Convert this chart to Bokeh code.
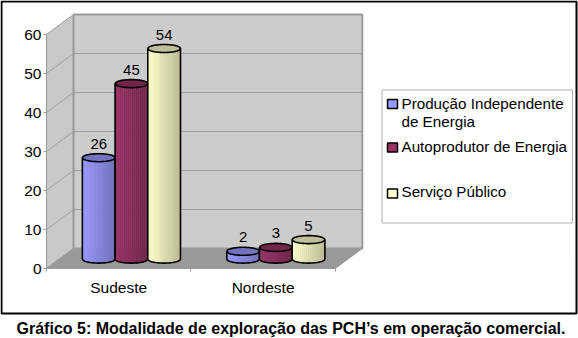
from bokeh.plotting import figure
from bokeh.models import Range1d, FixedTicker
from bokeh.core.properties import value
from bokeh.embed import file_html
from bokeh.resources import INLINE

categories = ["Sudeste", "Nordeste"]
producao = [26, 2]
autoprodutor = [45, 3]
servico = [54, 5]
y_ticks = [0, 10, 20, 30, 40, 50, 60]
light = [(153, 153, 255), (153, 51, 102), (255, 255, 204)]
legend_lines = ["Produção Independente", "de Energia", "Autoprodutor de Energia", "Serviço Público"]
title = "Gráfico 5: Modalidade de exploração das PCH’s em operação comercial."

FONT = "Liberation Sans"
PX_X, PX_Y = 144.4, 3.9        # pixels per category / per value unit
X0, Y0 = 46, 268               # canvas position of the plot origin
DX, DY = 27 / PX_X, 20 / PX_Y  # depth of the 3D box, in data units
W, H = 578, 338

def X(px): return (px - X0) / PX_X
def Y(py): return (Y0 - py) / PX_Y

p = figure(width=W, height=H, output_backend="svg", toolbar_location=None,
           x_range=Range1d(X(0), X(W)), y_range=Range1d(Y(H), Y(0)),
           min_border=0, background_fill_color="white", border_fill_color="white",
           outline_line_color=None)
p.grid.visible = False

# 3D box
edge = "#9a9a9a"
p.patch([0, 0, DX, DX], [0, 60, 60 + DY, DY], fill_color="#c8c8c8", line_color=edge, line_width=1)
p.patch([DX, DX, 2 + DX, 2 + DX], [DY, 60 + DY, 60 + DY, DY], fill_color="#cccccc", line_color=edge, line_width=2)
p.patch([0, 2, 2 + DX, DX], [0, 0, DY, DY], fill_color="#999999", line_color=edge, line_width=1)
gx, gy = [], []
for t in y_ticks[1:-1]:
    gx.append([0, DX, 2 + DX])
    gy.append([t, t + DY, t + DY])
p.multi_line(gx, gy, line_color="#a0a0a0", line_width=1)

# axes, pinned to the origin of the box
ax = p.yaxis[0]
ax.fixed_location = 0
ax.ticker = FixedTicker(ticks=y_ticks)
ax.bounds = (0, 60)
ax.major_tick_in, ax.major_tick_out, ax.minor_tick_out = 0, 3, 0
ax.axis_line_color = ax.major_tick_line_color = edge
ax.major_label_text_font = FONT
ax.major_label_text_font_size = "15.5px"
ax.major_label_text_color = "black"
ax.major_label_standoff = 2

ax = p.xaxis[0]
ax.fixed_location = 0
ax.ticker = FixedTicker(ticks=[0.5, 1.5], minor_ticks=[0, 1, 2])
ax.major_label_overrides = {i + 0.5: c for i, c in enumerate(categories)}
ax.bounds = (0, 2)
ax.major_tick_in = ax.major_tick_out = 0
ax.major_tick_line_color = None
ax.minor_tick_in, ax.minor_tick_out = 0, 3
ax.axis_line_color = ax.minor_tick_line_color = edge
ax.major_label_text_font = FONT
ax.major_label_text_font_size = "15.5px"
ax.major_label_text_color = "black"
ax.major_label_standoff = 7

# cylinders
BW = 32.7 / PX_X
GAP = 23.2 / PX_X
RY = 4 / PX_Y
OFF_X, OFF_Y = 0.47 * DX, 0.47 * DY
N = 16

def arc(cx, cy, xs, sign):
    out = []
    for x in xs:
        u = max(-1, min(1, (x - cx) / (BW / 2)))
        out.append(cy + sign * RY * (1 - u * u) ** 0.5)
    return out

for s, vals in enumerate([producao, autoprodutor, servico]):
    r, g, b = light[s]
    top_col = "#%02x%02x%02x" % (int(r * .75), int(g * .75), int(b * .75))
    for c, v in enumerate(vals):
        x0 = c + GAP + OFF_X + s * BW
        cx = x0 + BW / 2
        top = v + OFF_Y
        px, py, cols = [], [], []
        for i in range(N):
            a, b_ = x0 + BW * i / N, x0 + BW * (i + 1) / N
            mid = [a + (b_ - a) * j / 3 for j in range(4)]
            low = arc(cx, OFF_Y, mid, -1)
            px.append([a, b_] + mid[::-1])
            py.append([top, top] + low[::-1])
            f = 1 - 0.25 * (i / (N - 1))
            cols.append("#%02x%02x%02x" % (int(r * f), int(g * f), int(b * f)))
        p.patches(px, py, fill_color=cols, line_color=cols, line_width=0.5)
        xs = [x0 + BW * j / 40 for j in range(41)]
        ox = [x0] + xs + [x0 + BW]
        oy = [top] + arc(cx, OFF_Y, xs, -1) + [top]
        p.line(ox, oy, line_color="black", line_width=1.6)
        p.patch(xs + xs[::-1], arc(cx, top, xs, 1) + arc(cx, top, xs, -1)[::-1],
                fill_color=top_col, line_color="black", line_width=1.6)
        p.text([cx], [top], text=[str(v)], text_align="center", text_baseline="middle",
               y_offset=-14, text_font=value(FONT), text_font_size="15px", text_color="black")

# outer frame
p.quad(left=[X(1)], right=[X(576)], top=[Y(1)], bottom=[Y(313)], fill_alpha=0,
       line_color="black", line_width=2)

# legend
p.quad(left=[X(381.5)], right=[X(572)], top=[Y(89.5)], bottom=[Y(222.5)], fill_color="white",
       line_color="#b0b0b0", line_width=1)
swatch_y = [103.5, 147, 193]
p.quad(left=[X(387)] * 3, right=[X(397)] * 3,
       top=[Y(y - 4.5) for y in swatch_y], bottom=[Y(y + 4.5) for y in swatch_y],
       fill_color=["#%02x%02x%02x" % c for c in light], line_color="black", line_width=1.5)
legend_y = [102.5, 121, 146, 191]
p.text([X(401)] * 4, [Y(y) for y in legend_y], text=legend_lines, text_baseline="middle",
       text_font=value(FONT), text_font_size="15.2px", text_color="black")

# caption
p.text([X(290.5)], [Y(328)], text=[title], text_align="center", text_baseline="middle",
       text_font=value(FONT), text_font_size="16px", text_font_style="bold", text_color="black")

open("out.html", "w").write(file_html(p, INLINE))
